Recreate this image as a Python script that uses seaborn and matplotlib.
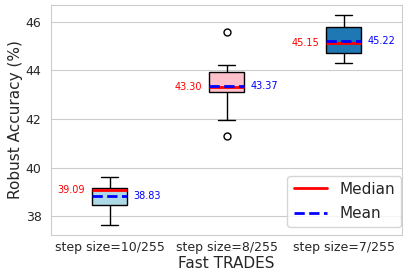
import seaborn as sns
import matplotlib.pyplot as plt
import pandas as pd
import numpy as np
from matplotlib.lines import Line2D

# Robust accuracy per run
labels = ['step size=10/255', 'step size=8/255', 'step size=7/255']
acc_10 = [37.63, 38.2, 38.48, 38.9, 39.09, 39.12, 39.17, 39.28, 39.6]
acc_8 = [41.3, 41.95, 43.10, 43.2, 43.30, 43.72, 43.95, 44.21, 45.6]
acc_7 = [44.30, 44.5, 44.71, 44.9, 45.15, 45.4, 45.81, 45.94, 46.27]
box_colors = ['lightblue', 'pink', '#1f77b4']

df = pd.DataFrame({
    'setting': np.repeat(labels, [len(acc_10), len(acc_8), len(acc_7)]),
    'acc': acc_10 + acc_8 + acc_7,
})

sns.set_style('whitegrid')
fig, ax = plt.subplots(figsize=(4.03, 2.74), dpi=100)
fig.subplots_adjust(left=0.127, right=0.998, top=0.982, bottom=0.142)

sns.boxplot(data=df, x='setting', y='acc', hue='setting', palette=box_colors,
            legend=False, width=0.3, saturation=1, linecolor='black', linewidth=1,
            showmeans=True, meanline=True,
            medianprops=dict(color='red', linewidth=2),
            meanprops=dict(color='blue', linestyle='--', linewidth=2),
            flierprops=dict(marker='o', markerfacecolor='none',
                            markeredgecolor='black', markersize=5),
            ax=ax)

# median / mean annotations
for i, vals in enumerate([acc_10, acc_8, acc_7]):
    med = np.median(vals)
    mean = np.mean(vals)
    ax.text(i - 0.21, med, f'{med:.2f}', color='red', fontsize=7,
            ha='right', va='center')
    ax.text(i + 0.2, mean, f'{mean:.2f}', color='blue', fontsize=7,
            ha='left', va='center')

ax.set_xlim(-0.5, 2.5)
ax.set_ylim(37.22, 46.7)
ax.set_yticks([38, 40, 42, 44, 46])
ax.set_xlabel('Fast TRADES', fontsize=11, labelpad=1)
ax.set_ylabel('Robust Accuracy (%)', fontsize=11, labelpad=2)
ax.tick_params(labelsize=9)
ax.tick_params(axis='x', pad=1)

handles = [Line2D([0], [0], color='red', lw=2, label='Median'),
           Line2D([0], [0], color='blue', lw=2, ls='--', label='Mean')]
ax.legend(handles=handles, loc='lower right', fontsize=11, handlelength=2.2,
          labelspacing=0.6, borderaxespad=0, bbox_to_anchor=(0.997, 0.035))

plt.savefig('out.png')
